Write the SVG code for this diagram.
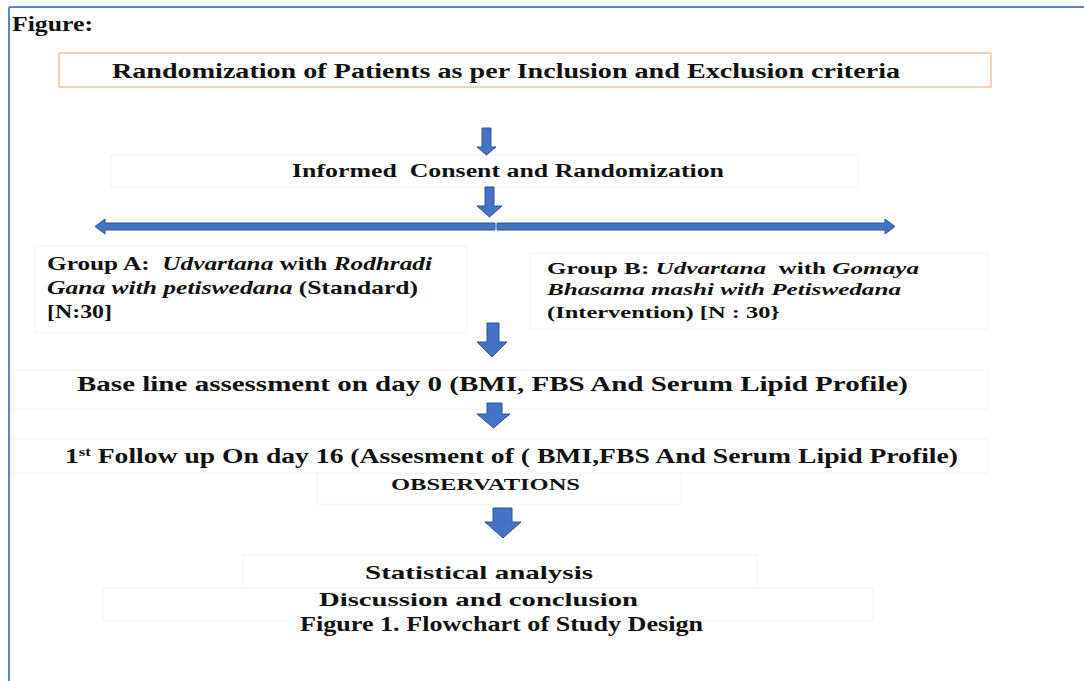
<svg xmlns="http://www.w3.org/2000/svg" width="1084" height="681" viewBox="0 0 1084 681">
<style>
text{font-family:"Liberation Serif","Times New Roman",serif;font-weight:bold;fill:#111}
.i{font-style:italic}
.faint{fill:none;stroke:#f4f4f4;stroke-width:1}
.arr{fill:#4472C4;stroke:#2F5597;stroke-width:1}
</style>
<rect width="1084" height="681" fill="#fff"/>
<g id="frame">
<line x1="9" y1="7" x2="1084" y2="7" stroke="#5A86C8" stroke-width="2"/>
<line x1="9" y1="7" x2="9" y2="681" stroke="#5A86C8" stroke-width="2"/>
</g>
<g id="title"><text x="12" y="31" font-size="20" textLength="81" lengthAdjust="spacingAndGlyphs">Figure:</text></g>
<g id="n-randomization">
<rect x="59" y="53" width="932" height="34" fill="#fff" stroke="#F4B183" stroke-width="1.2"/>
<text x="112" y="78" font-size="20" textLength="788" lengthAdjust="spacingAndGlyphs">Randomization of Patients as per Inclusion and Exclusion criteria</text>
</g>
<g id="n-consent">
<rect class="faint" x="111" y="155" width="747" height="32"/>
<text x="292" y="177" font-size="18" textLength="432" lengthAdjust="spacingAndGlyphs">Informed&#160; Consent and Randomization</text>
</g>
<g id="n-groupA">
<rect class="faint" x="35" y="246" width="432" height="87"/>
<text x="47" y="270" font-size="19" textLength="385" lengthAdjust="spacingAndGlyphs">Group A:&#160; <tspan class="i">Udvartana</tspan> with <tspan class="i">Rodhradi</tspan></text>
<text x="47" y="294" font-size="19" textLength="371" lengthAdjust="spacingAndGlyphs"><tspan class="i">Gana with petiswedana</tspan> (Standard)</text>
<text x="47" y="318" font-size="19" textLength="65" lengthAdjust="spacingAndGlyphs">[N:30]</text>
</g>
<g id="n-groupB">
<rect class="faint" x="530" y="253" width="458" height="76"/>
<text x="547" y="274" font-size="17" textLength="372" lengthAdjust="spacingAndGlyphs">Group B: <tspan class="i">Udvartana</tspan>&#160; with <tspan class="i">Gomaya</tspan></text>
<text x="547" y="295" font-size="17" textLength="354" lengthAdjust="spacingAndGlyphs" class="i">Bhasama mashi with Petiswedana</text>
<text x="547" y="318" font-size="17" textLength="233" lengthAdjust="spacingAndGlyphs">(Intervention) [N : 30}</text>
</g>
<g id="n-baseline">
<rect class="faint" x="12" y="370" width="976" height="39"/>
<text x="77" y="391" font-size="20" textLength="831" lengthAdjust="spacingAndGlyphs">Base line assessment on day 0 (BMI, FBS And Serum Lipid Profile)</text>
</g>
<g id="n-followup">
<rect class="faint" x="12" y="439" width="976" height="34"/>
<text x="65" y="463" font-size="20" textLength="893" lengthAdjust="spacingAndGlyphs">1<tspan font-size="12" dy="-7">st</tspan><tspan dy="7"> Follow up On day 16 (Assesment of ( BMI,FBS And Serum Lipid Profile)</tspan></text>
</g>
<g id="n-observations">
<rect class="faint" x="317" y="473" width="364" height="31"/>
<text x="391" y="490" font-size="16" textLength="189" lengthAdjust="spacingAndGlyphs">OBSERVATIONS</text>
</g>
<g id="n-statistical">
<rect class="faint" x="243" y="555" width="514" height="33"/>
<text x="365" y="579" font-size="19" textLength="228" lengthAdjust="spacingAndGlyphs">Statistical analysis</text>
</g>
<g id="n-discussion">
<rect class="faint" x="103" y="588" width="770" height="33"/>
<text x="319" y="606" font-size="19" textLength="319" lengthAdjust="spacingAndGlyphs">Discussion and conclusion</text>
</g>
<g id="caption"><text x="300" y="631" font-size="20" textLength="403" lengthAdjust="spacingAndGlyphs">Figure 1. Flowchart of Study Design</text></g>
<g id="connectors">
<polygon class="arr" points="482,128 491,128 491,147 496,147 486.5,155 477,147 482,147"/>
<polygon class="arr" points="485,187 494,187 494,206 502,206 489.5,217 477,206 485,206"/>
<polygon class="arr" points="495,223 105,223 105,219 95,226.5 105,234 105,230 495,230"/>
<polygon class="arr" points="497,223 885,223 885,219 895,226.5 885,234 885,230 497,230"/>
<polygon class="arr" points="487,323 499,323 499,342 507,342 492,357 477,342 487,342"/>
<polygon class="arr" points="487,403 502,403 502,414 510,414 493.5,428 477,414 487,414"/>
<polygon class="arr" points="493,508 512,508 512,522 521,522 503,538 485,522 493,522"/>
</g>
</svg>
